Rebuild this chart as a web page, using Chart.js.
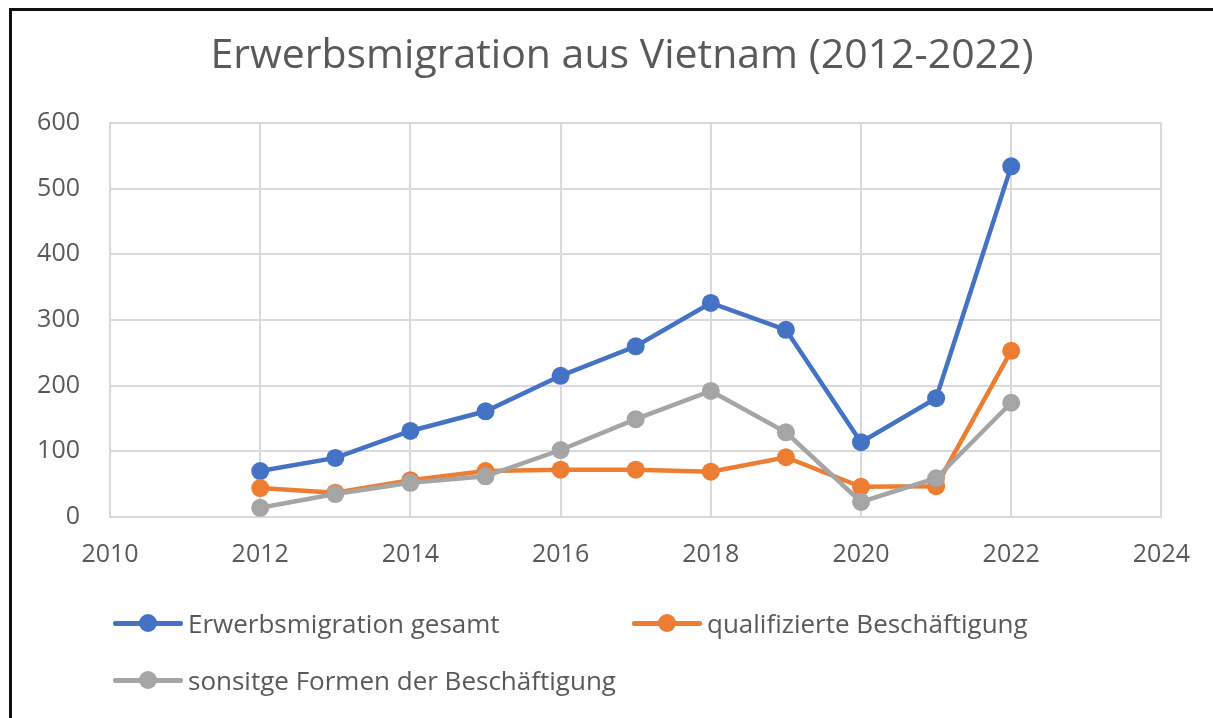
<!DOCTYPE html>
<html>
<head>
<meta charset="utf-8">
<script src="https://cdn.jsdelivr.net/npm/chart.js@4.4.1/dist/chart.umd.min.js"></script>
<style>
    body { margin: 0; background: #fff; }
    #wrap { position: relative; width: 1213px; height: 718px; overflow: hidden; }
    #frame { position: absolute; left: 9px; top: 8px; right: -10px; bottom: -10px; border-left: 3px solid #111; border-top: 3px solid #111; }
    #chart { position: absolute; left: 0; top: 0; }
    .leg { position: absolute; font-family: "Open Sans", sans-serif; font-size: 26px; color: #595959; display: flex; align-items: center; white-space: nowrap; height: 36px; }
    .sym { position: relative; width: 70px; height: 20px; margin-right: 5px; }
    .sym .ln { position: absolute; left: 0; right: 0; top: 8px; height: 4.5px; border-radius: 2px; }
    .sym .dt { position: absolute; left: 26px; top: 1px; width: 18px; height: 18px; border-radius: 50%; }
</style>
</head>
<body>
<div id="wrap">
    <div id="frame"></div>
    <canvas id="chart" width="1213" height="718"></canvas>
    <div id="legend"></div>
</div>
<script>
var years = [2012, 2013, 2014, 2015, 2016, 2017, 2018, 2019, 2020, 2021, 2022];
var gesamt = [70, 90, 131, 161, 215, 260, 326, 285, 114, 181, 534];
var qualifiziert = [44, 37, 56, 70, 72, 72, 69, 91, 46, 47, 253];
var sonstige = [14, 35, 52, 62, 102, 149, 192, 129, 23, 59, 174];
var seriesNames = ['Erwerbsmigration gesamt', 'qualifizierte Beschäftigung', 'sonsitge Formen der Beschäftigung'];
var colors = ['#4472c4', '#ed7d31', '#a5a5a5'];
var chartTitle = 'Erwerbsmigration aus Vietnam (2012-2022)';

function toPoints(vals) {
    return vals.map(function(v, i) { return { x: years[i], y: v }; });
}

var gridColor = '#d9d9d9';
var textColor = '#595959';

function makeSet(i, vals) {
    return {
        label: seriesNames[i],
        data: toPoints(vals),
        borderColor: colors[i],
        backgroundColor: colors[i],
        borderWidth: 4.5,
        pointRadius: 9,
        pointHoverRadius: 9,
        pointBorderWidth: 0,
        tension: 0,
        order: 3 - i
    };
}

// title drawn centred on the whole picture (the built-in one centres on the padded box)
var titlePlugin = {
    id: 'pageTitle',
    afterDraw: function(c) {
        var g = c.ctx;
        g.save();
        g.font = '41px "Open Sans"';
        g.fillStyle = textColor;
        g.textAlign = 'center';
        g.textBaseline = 'middle';
        g.fillText(chartTitle, 622, 56);
        g.restore();
    }
};

var ctx = document.getElementById('chart').getContext('2d');
var chart = new Chart(ctx, {
    type: 'line',
    data: {
        datasets: [makeSet(0, gesamt), makeSet(1, qualifiziert), makeSet(2, sonstige)]
    },
    plugins: [titlePlugin],
    options: {
        responsive: false,
        animation: false,
        layout: { padding: { left: 10, right: 50, top: 123, bottom: 0 } },
        plugins: {
            legend: { display: false },
            tooltip: { enabled: false },
            title: { display: false }
        },
        scales: {
            x: {
                type: 'linear',
                min: 2010,
                max: 2024,
                ticks: {
                    stepSize: 2,
                    color: textColor,
                    font: { family: 'Open Sans', size: 25 },
                    padding: 23,
                    maxRotation: 0,
                    callback: function(v) { return String(v); }
                },
                grid: { color: gridColor, lineWidth: 2, drawTicks: false },
                border: { color: gridColor, width: 2 },
                afterFit: function(s) { s.height = 201; }
            },
            y: {
                min: 0,
                max: 600,
                ticks: {
                    stepSize: 100,
                    color: textColor,
                    font: { family: 'Open Sans', size: 25 },
                    padding: 30
                },
                grid: { color: gridColor, lineWidth: 2, drawTicks: false },
                border: { color: gridColor, width: 2 },
                afterFit: function(s) { s.width = 100; }
            }
        }
    }
});

// legend below the plot, laid out like the original
var legendPos = [[113, 623], [632, 623], [113, 680]];
var legend = document.getElementById('legend');
seriesNames.forEach(function(name, i) {
    var item = document.createElement('div');
    item.className = 'leg';
    item.style.left = legendPos[i][0] + 'px';
    item.style.top = (legendPos[i][1] - 18) + 'px';
    item.innerHTML = '<span class="sym"><span class="ln" style="background:' + colors[i] + '"></span>' +
        '<span class="dt" style="background:' + colors[i] + '"></span></span><span>' + name + '</span>';
    legend.appendChild(item);
});
</script>
</body>
</html>
